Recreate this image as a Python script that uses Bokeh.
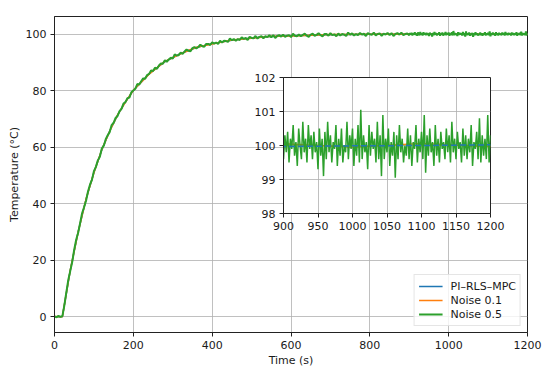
from bokeh.plotting import figure
from bokeh.models import Range1d, FixedTicker
from bokeh.embed import file_html
from bokeh.resources import INLINE

# ---------------- data ----------------
time_rise = list(range(0, 900, 5))       # s
time_tail = list(range(900, 1201, 2))    # s

noise05_rise = [
    0.1, -0.2, 0.3, -0.1,
    0.2, 4.0, 8.6, 13.0, 16.2, 19.4, 23.7, 27.2, 29.7, 33.1,
    36.6, 38.7, 41.0, 44.3, 46.7, 48.4, 51.5, 53.0, 55.3, 56.6,
    59.5, 60.5, 62.8, 64.2, 65.3, 67.8, 68.6, 70.3, 71.0, 72.7,
    73.5, 75.4, 75.9, 77.3, 77.5, 79.4, 80.0, 80.6, 82.3, 82.1,
    83.3, 84.3, 84.2, 85.5, 85.9, 87.1, 86.9, 88.1, 87.7, 88.9,
    89.6, 89.5, 90.7, 90.2, 91.0, 91.6, 91.3, 92.8, 92.4, 92.5,
    93.4, 93.0, 93.8, 94.5, 94.1, 93.9, 95.0, 95.4, 94.9, 95.4,
    96.2, 95.7, 95.5, 96.5, 96.5, 96.1, 97.1, 96.6, 97.0, 96.5,
    97.6, 97.0, 97.6, 97.5, 97.2, 98.4, 97.8, 98.2, 97.6, 98.2,
    97.9, 98.8, 98.3, 98.6, 97.9, 99.0, 98.6, 98.5, 99.3, 98.4,
    99.0, 99.2, 98.5, 99.2, 98.9, 99.6, 98.8, 99.6, 98.6, 99.3,
    99.6, 99.1, 99.8, 99.0, 99.4, 99.6, 98.9, 100.1, 99.4, 99.2,
    99.8, 99.2, 99.7, 100.1, 99.4, 99.0, 99.8, 100.1, 99.4, 99.7,
    100.3, 99.6, 99.2, 100.0, 100.0, 99.4, 100.3, 99.6, 99.9, 99.2,
    100.2, 99.5, 100.0, 99.8, 99.3, 100.5, 99.8, 100.2, 99.5, 100.0,
    99.6, 100.4, 99.8, 100.1, 99.3, 100.3, 99.9, 99.7, 100.5, 99.5,
    100.0, 100.2, 99.4, 100.1, 99.8, 100.4, 99.6, 100.3, 99.3, 100.0,
    100.3, 99.8, 100.5, 99.6, 100.0, 100.2,
]

noise05_tail = [
    99.6, 100.3, 99.8, 100.4, 99.5, 100.2, 99.9, 100.6, 99.7, 100.1,
    99.4, 100.5, 100.0, 99.6, 100.7, 99.8, 100.2, 99.5, 100.6, 99.9,
    100.3, 99.6, 100.4, 99.8, 100.1, 99.3, 100.5, 99.7, 100.2, 99.1,
    100.4, 99.6, 100.7, 99.8, 100.3, 99.5, 100.1, 99.9, 100.6, 99.4,
    100.2, 99.7, 100.5, 99.5, 100.0, 99.8, 100.7, 99.6, 100.3, 99.9,
    100.5, 99.4, 100.2, 99.7, 100.6, 99.5, 101.05, 99.6, 100.3, 99.8,
    100.1, 99.3, 100.6, 99.7, 100.4, 99.9, 100.2, 99.5, 100.7, 99.6,
    100.3, 99.1, 100.9, 99.6, 100.2, 99.8, 100.5, 99.4, 100.1, 99.7,
    100.4, 99.05, 100.3, 99.6, 100.6, 99.8, 100.2, 99.5, 100.0, 99.7,
    100.5, 99.6, 100.3, 99.4, 100.1, 99.9, 100.6, 99.5, 100.2, 99.8,
    100.4, 99.6, 100.9, 99.2, 100.3, 99.7, 100.5, 99.8, 100.1, 99.4,
    100.6, 99.7, 100.2, 99.5, 100.4, 99.9, 100.1, 99.6, 100.5, 99.8,
    100.3, 99.5, 100.7, 99.8, 100.2, 99.6, 100.4, 99.9, 100.1, 99.5,
    100.5, 99.7, 100.3, 99.6, 100.2, 99.8, 100.6, 99.4, 100.1, 99.9,
    100.4, 99.6, 100.8, 99.5, 100.3, 99.7, 100.2, 99.6, 100.9, 99.5,
    100.3,
]

time_ref = [0, 20, 40, 60, 80, 100, 120, 140, 160, 180, 200, 240, 280, 320,
            360, 400, 450, 500, 550, 600, 700, 800, 900, 1000, 1100, 1200]
pi_rls_mpc = [0.0, 0.0, 16.4, 30.0, 41.5, 51.0, 59.0, 65.7, 71.3, 76.0, 80.0,
              85.9, 90.2, 93.1, 95.2, 96.6, 97.8, 98.6, 99.1, 99.4, 99.75,
              99.9, 99.97, 99.99, 100.0, 100.02]
noise01 = [0.02, 0.0, 16.5, 29.9, 41.6, 50.9, 59.1, 65.6, 71.4, 75.9, 80.1,
           85.8, 90.3, 93.0, 95.3, 96.5, 97.9, 98.5, 99.2, 99.3, 99.8,
           99.9, 100.05, 99.95, 100.06, 99.96]

main_x_ticks = [0, 200, 400, 600, 800, 1000, 1200]
main_y_ticks = [0, 20, 40, 60, 80, 100]
inset_x_ticks = [900, 950, 1000, 1050, 1100, 1150, 1200]
inset_y_ticks = [98, 99, 100, 101, 102]

time_n05 = time_rise + time_tail
temp_n05 = noise05_rise + noise05_tail

# ---------------- style ----------------
FONT = "DejaVu Sans"
FS = "11px"
BLUE, ORANGE, GREEN = "#1f77b4", "#ff7f0e", "#2ca02c"
TXT = "#1a1a1a"


def style(fig):
    fig.outline_line_color = "#222222"
    fig.outline_line_width = 1
    for ax in fig.axis:
        ax.axis_line_color = "#222222"
        ax.axis_line_width = 1
        ax.major_tick_line_color = "#222222"
        ax.major_tick_out = 4
        ax.major_tick_in = 0
        ax.minor_tick_out = 0
        ax.minor_tick_in = 0
        ax.major_label_text_font = FONT
        ax.major_label_text_font_size = FS
        ax.major_label_text_color = TXT
        ax.major_label_standoff = 4
        ax.axis_label_text_font = FONT
        ax.axis_label_text_font_size = FS
        ax.axis_label_text_font_style = "normal"
        ax.axis_label_text_color = TXT
    for g in fig.grid:
        g.grid_line_color = "#b0b0b0"
        g.grid_line_width = 0.8


# ---------------- main figure ----------------
p = figure(width=548, height=370, output_backend="svg", toolbar_location=None,
           x_range=Range1d(0, 1200), y_range=Range1d(-5.6, 106.2),
           min_border_left=54, min_border_right=21, min_border_top=16,
           min_border_bottom=38)
p.line(time_ref, pi_rls_mpc, color=BLUE, line_width=1.5, legend_label="PI–RLS–MPC")
p.line(time_ref, noise01, color=ORANGE, line_width=1.5, legend_label="Noise 0.1")
p.line(time_n05, temp_n05, color=GREEN, line_width=2, legend_label="Noise 0.5")
p.xaxis.ticker = FixedTicker(ticks=main_x_ticks)
p.yaxis.ticker = FixedTicker(ticks=main_y_ticks)
p.xaxis.axis_label = "Time (s)"
p.yaxis.axis_label = "Temperature (°C)"
style(p)
p.xaxis.axis_label_standoff = 2
p.yaxis.axis_label_standoff = 2

lg = p.legend[0]
lg.location = "bottom_right"
lg.margin = 6
lg.padding = 4
lg.spacing = 0
lg.glyph_width = 24
lg.glyph_height = 14
lg.label_height = 14
lg.label_standoff = 8
lg.label_text_font = FONT
lg.label_text_font_size = FS
lg.label_text_color = TXT
lg.border_line_color = "#cccccc"
lg.border_line_width = 1
lg.background_fill_color = "white"
lg.background_fill_alpha = 0.8

# ---------------- inset ----------------
inset = figure(width=256, height=168, output_backend="svg", toolbar_location=None,
               x_range=Range1d(900, 1200), y_range=Range1d(98, 102),
               min_border_left=34, min_border_right=15, min_border_top=8,
               min_border_bottom=24,
               styles={"position": "absolute", "left": "249px", "top": "69px"})
inset.border_fill_color = None
inset.background_fill_color = "white"
inset.line(time_ref, noise01, color=ORANGE, line_width=1.5)
inset.line(time_n05, temp_n05, color=GREEN, line_width=1.5)
inset.line(time_ref, pi_rls_mpc, color=BLUE, line_width=1.5, line_dash="6 3")
inset.xaxis.ticker = FixedTicker(ticks=inset_x_ticks)
inset.yaxis.ticker = FixedTicker(ticks=inset_y_ticks)
style(inset)

open("out.html", "w").write(file_html([p, inset], INLINE))
